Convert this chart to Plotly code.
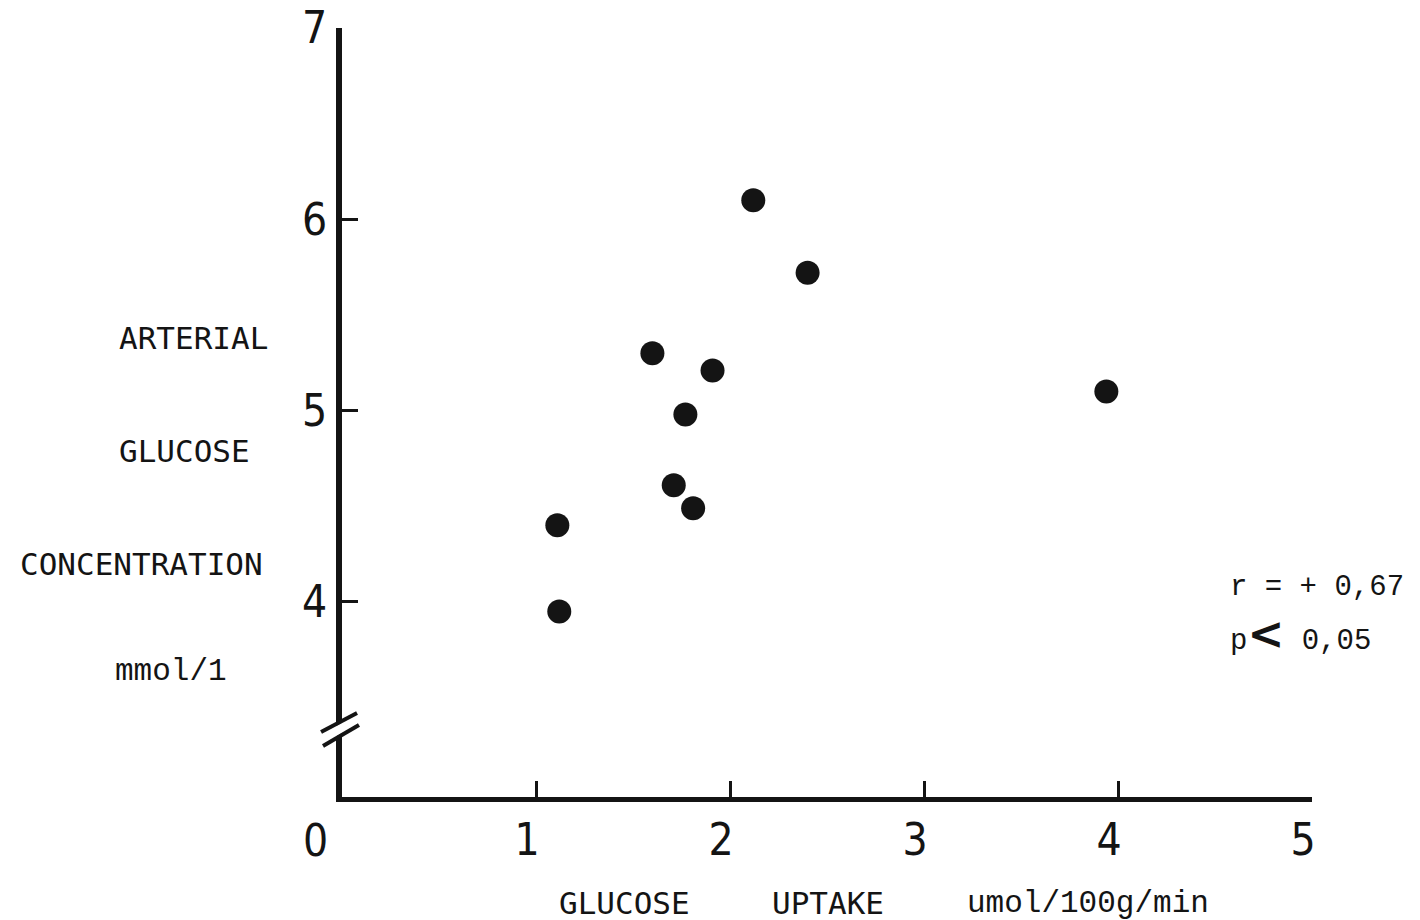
import plotly.graph_objects as go

# glucose uptake (umol/100g/min) vs arterial glucose (mmol/l)
uptake = [1.11, 1.12, 1.60, 1.71, 1.77, 1.81, 1.91, 2.12, 2.40, 3.94]
glucose = [4.40, 3.95, 5.30, 4.61, 4.98, 4.49, 5.21, 6.10, 5.72, 5.10]

x_ticks = [1, 2, 3, 4, 5]
y_ticks = [4, 5, 6, 7]

INK = "#141414"
MONO = "DejaVu Sans Mono, Liberation Mono, monospace"
COURIER = "Liberation Mono, Courier New, monospace"
DIGITS = "Liberation Sans Narrow, DejaVu Sans Condensed, Roboto, Liberation Sans, sans-serif"

fig = go.Figure()
fig.add_trace(go.Scatter(
    x=uptake, y=glucose, mode="markers",
    marker=dict(size=24, color=INK, line=dict(width=0)),
    hoverinfo="skip", showlegend=False,
))

fig.update_xaxes(
    range=[0, 5], tickvals=x_ticks, ticktext=[str(v) for v in x_ticks],
    showgrid=False, zeroline=False, automargin=False,
    showline=True, linewidth=5, linecolor=INK,
    ticks="inside", ticklen=16, tickwidth=3, tickcolor=INK,
    tickfont=dict(family=DIGITS, size=44, color=INK),
    ticklabelstandoff=0, ticklabelshift=-9,
)
fig.update_yaxes(
    range=[2.98, 7], tickvals=y_ticks, ticktext=[str(v) for v in y_ticks],
    showgrid=False, zeroline=False, automargin=False,
    showline=True, linewidth=6, linecolor=INK,
    ticks="inside", ticklen=16, tickwidth=3, tickcolor=INK,
    tickfont=dict(family=DIGITS, size=44, color=INK),
    ticklabelstandoff=0,
)

# origin label sits left of the axis corner
fig.add_annotation(text="0", xref="x", yref="paper", x=0, y=0, xshift=-27, yshift=-16,
                   xanchor="center", yanchor="top", showarrow=False,
                   font=dict(family=DIGITS, size=44, color=INK))

# axis break marks on the y axis
fig.add_shape(type="line", xref="paper", yref="paper",
              x0=-0.0206, y0=0.0754, x1=0.0165, y1=0.1014,
              line=dict(color="white", width=9), layer="above")
fig.add_shape(type="line", xref="paper", yref="paper",
              x0=-0.0216, y0=0.0845, x1=0.0155, y1=0.1092,
              line=dict(color=INK, width=4), layer="above")
fig.add_shape(type="line", xref="paper", yref="paper",
              x0=-0.0196, y0=0.0663, x1=0.0175, y1=0.0936,
              line=dict(color=INK, width=4), layer="above")

y_label = [
    ("ARTERIAL", -0.232, 0.597, MONO),
    ("GLUCOSE", -0.232, 0.450, MONO),
    ("CONCENTRATION", -0.334, 0.303, MONO),
    ("mmol/1", -0.236, 0.163, COURIER),
]
for txt, px_, py_, fam in y_label:
    fig.add_annotation(text=txt, xref="paper", yref="paper", x=px_, y=py_,
                       xanchor="left", yanchor="middle", showarrow=False,
                       font=dict(family=fam, size=31, color=INK))

x_label = [
    ("GLUCOSE", 0.222, MONO),
    ("UPTAKE", 0.441, MONO),
    ("umol/100g/min", 0.642, COURIER),
]
for txt, px_, fam in x_label:
    fig.add_annotation(text=txt, xref="paper", yref="paper", x=px_, y=-0.138,
                       xanchor="left", yanchor="middle", showarrow=False,
                       font=dict(family=fam, size=31, color=INK))

fig.add_annotation(text="r = + 0,67", xref="paper", yref="paper", x=0.913, y=0.272,
                   xanchor="left", yanchor="middle", showarrow=False,
                   font=dict(family=COURIER, size=29, color=INK))
fig.add_annotation(text="p<span style='font-size:44px;font-family:DejaVu Sans'><b>&lt;</b></span>&nbsp;0,05",
                   xref="paper", yref="paper", x=0.913, y=0.213,
                   xanchor="left", yanchor="middle", showarrow=False,
                   font=dict(family=COURIER, size=29, color=INK))

fig.update_layout(
    width=1420, height=920,
    margin=dict(l=342, r=108, t=28, b=123),
    paper_bgcolor="white", plot_bgcolor="white",
)

# drop the default 8px body margin so the figure fills the window exactly
fig.write_html("out.html", config={"displayModeBar": False},
               post_script="document.body.style.margin='0px';")
